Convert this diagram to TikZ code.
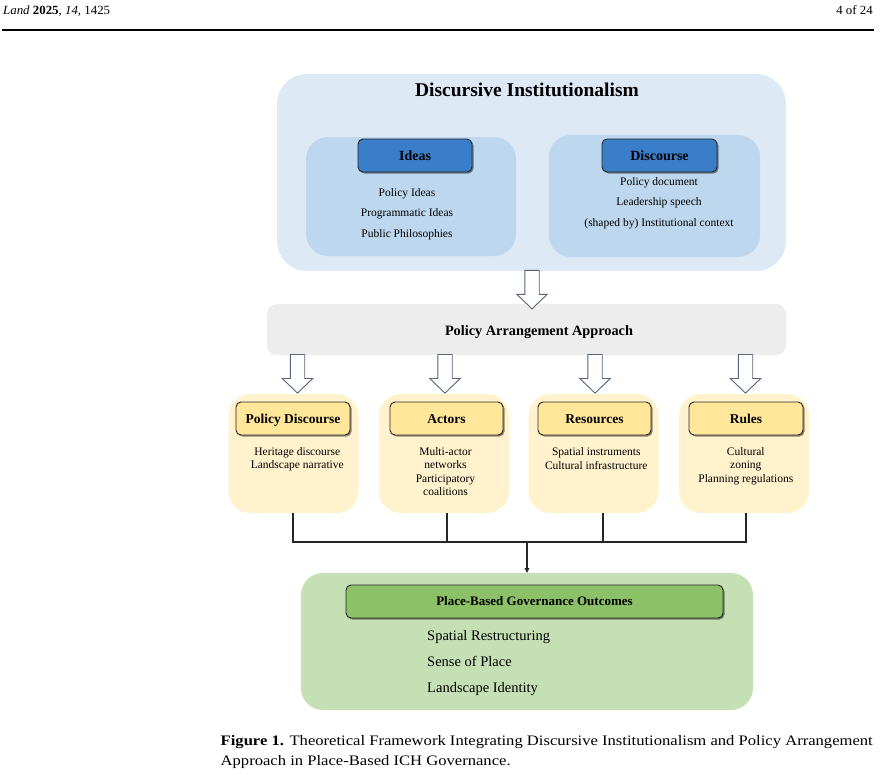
\documentclass[tikz,border=0pt]{standalone}
\usepackage{fontspec}
\setmainfont{Liberation Serif}
\newfontfamily\capfont[FakeStretch=1.145]{Liberation Serif}
\newfontfamily\hdrfont[FakeStretch=1.03]{Liberation Serif}
\usetikzlibrary{shadows,arrows.meta}
\definecolor{diouter}{HTML}{DEE9F6}
\definecolor{diinner}{HTML}{BDD7EE}
\definecolor{bluehead}{HTML}{3A7DC9}
\definecolor{pagray}{HTML}{EDEDED}
\definecolor{ylbox}{HTML}{FFF2CC}
\definecolor{ylhead}{HTML}{FFE699}
\definecolor{grbox}{HTML}{C5E0B4}
\definecolor{grhead}{HTML}{8CC168}
\definecolor{arrstroke}{HTML}{56657A}
\definecolor{linecol}{HTML}{262626}
\newcommand\fs[1]{\fontsize{#1}{#1}\selectfont}
\newcommand\hollowarr[1]{%
  \draw[hollow] ([xshift=-7.2pt]#1) -- ++(0,24) -- ++(-8,0) -- ++(15.2,14.6) -- ++(15.2,-14.6) -- ++(-8,0) -- ++(0,-24) -- cycle;}
\begin{document}
\begin{tikzpicture}[x=1pt,y=-1pt,
  panel/.style={anchor=north west, inner sep=0pt, outer sep=0pt},
  headbox/.style={panel, draw=black!85, line width=0.9pt, rounded corners=5pt,
    drop shadow={shadow xshift=1.5pt, shadow yshift=-1.5pt, opacity=0.45, fill=black}},
  item/.style={anchor=base, inner sep=0pt, font=\fs{11.5}},
  gitem/.style={anchor=base west, inner sep=0pt, font=\fs{14.5}},
  hollow/.style={draw=arrstroke, fill=white, line width=0.9pt, line join=miter},
  conn/.style={draw=linecol, line width=1.1pt}]
\useasboundingbox[fill=white] (0,0) rectangle (892,780);

% page header
\node[anchor=base west, inner sep=0pt, font=\hdrfont\fs{12.5}] (hdrl) at (3,14.5) {\textit{Land} \textbf{2025}, \textit{14}, 1425};
\node[anchor=base east, inner sep=0pt, font=\hdrfont\fs{12.5}] (hdrr) at (873,14.5) {4 of 24};
\coordinate (rulel) at (1.5,30);
\coordinate (ruler) at (874,30);
\draw[line width=1.3pt] (rulel) -- (ruler);

% Discursive Institutionalism
\node[panel, fill=diouter, rounded corners=30pt, minimum width=509, minimum height=197] (di) at (277,74) {};
\node[anchor=base, inner sep=0pt, font=\fs{19.5}\bfseries] (dititle) at (527,96) {Discursive Institutionalism};
\node[panel, fill=diinner, rounded corners=22pt, minimum width=210, minimum height=119] (ideasbox) at (306,137) {};
\node[panel, fill=diinner, rounded corners=22pt, minimum width=211, minimum height=122] (discbox) at (549,135) {};
\node[headbox, fill=bluehead, minimum width=114, minimum height=33, font=\fs{14}\bfseries, text height=9.3pt, text depth=0pt] (ideashead) at (358,139) {Ideas};
\node[headbox, fill=bluehead, minimum width=115, minimum height=33, font=\fs{14}\bfseries, text height=9.3pt, text depth=0pt] (dischead) at (602,139) {Discourse};
\foreach \t [count=\i] in {{Policy Ideas},{Programmatic Ideas},{Public Philosophies}}
  \node[item] (idea-\i) at (407,{196.5+20.3*(\i-1)}) {\t};
\foreach \t [count=\i] in {{Policy document},{Leadership speech},{(shaped by) Institutional context}}
  \node[item] (disc-\i) at (659,{185+20.7*(\i-1)}) {\t};

% Policy Arrangement Approach
\node[panel, fill=pagray, rounded corners=10pt, minimum width=519, minimum height=51] (pa) at (267,304) {};
\node[anchor=base, inner sep=0pt, font=\fs{14.3}\bfseries] (patext) at (539,335) {Policy Arrangement Approach};

\coordinate (a0) at (532,270.3);
\hollowarr{a0}
\coordinate (a1) at (297.5,354.5);
\coordinate (a2) at (445,354.5);
\coordinate (a3) at (595,354.5);
\coordinate (a4) at (745.5,354.5);

% four dimensions
\node[panel, fill=ylbox, rounded corners=22pt, minimum width=130, minimum height=119] (pdbox) at (228.5,394) {};
\node[panel, fill=ylbox, rounded corners=22pt, minimum width=130, minimum height=119] (actbox) at (379,394) {};
\node[panel, fill=ylbox, rounded corners=22pt, minimum width=130, minimum height=119] (resbox) at (528.5,394) {};
\node[panel, fill=ylbox, rounded corners=22pt, minimum width=130, minimum height=119] (rulbox) at (679,394) {};
\hollowarr{a1}
\hollowarr{a2}
\hollowarr{a3}
\hollowarr{a4}
\node[headbox, fill=ylhead, minimum width=114, minimum height=33, font=\fs{13.5}\bfseries, text height=9pt, text depth=0pt] (pdhead) at (236,402) {Policy Discourse};
\node[headbox, fill=ylhead, minimum width=113, minimum height=33, font=\fs{13.5}\bfseries, text height=9pt, text depth=0pt] (acthead) at (390,402) {Actors};
\node[headbox, fill=ylhead, minimum width=113, minimum height=33, font=\fs{13.5}\bfseries, text height=9pt, text depth=0pt] (reshead) at (538,402) {Resources};
\node[headbox, fill=ylhead, minimum width=114, minimum height=33, font=\fs{13.5}\bfseries, text height=9pt, text depth=0pt] (rulhead) at (689,402) {Rules};
\foreach \t [count=\i] in {{Heritage discourse},{Landscape narrative}}
  \node[item] (pd-\i) at (297.3,{455+13.6*(\i-1)}) {\t};
\foreach \t [count=\i] in {{Multi-actor},{networks},{Participatory},{coalitions}}
  \node[item] (act-\i) at (445.5,{455+13.6*(\i-1)}) {\t};
\foreach \t [count=\i] in {{Spatial instruments},{Cultural infrastructure}}
  \node[item] (res-\i) at (596.3,{455.5+13.6*(\i-1)}) {\t};
\foreach \t [count=\i] in {{Cultural},{zoning},{Planning regulations}}
  \node[item] (rul-\i) at (745.8,{455+13.6*(\i-1)}) {\t};

% connectors
\coordinate (j1) at (293,542);
\coordinate (j2) at (447,542);
\coordinate (j3) at (603,542);
\coordinate (j4) at (746,542);
\coordinate (jm) at (527,542);

% outcomes
\node[panel, fill=grbox, rounded corners=22pt, minimum width=452, minimum height=137] (gr) at (301,573) {};
\node[headbox, fill=grhead, minimum width=377, minimum height=33, font=\fs{13}\bfseries, text height=8.6pt, text depth=0pt] (grhead) at (346,585) {Place-Based Governance Outcomes};
\node[gitem] (gr-1) at (427,640) {Spatial Restructuring};
\node[gitem] (gr-2) at (427,666) {Sense of Place};
\node[gitem] (gr-3) at (427,692) {Landscape Identity};

\draw[conn] (pdbox.south -| j1) -- (j1) -- (j4) -- (rulbox.south -| j4);
\draw[conn] (actbox.south -| j2) -- (j2);
\draw[conn] (resbox.south -| j3) -- (j3);
\draw[conn, -{Triangle[length=5pt,width=4.5pt]}] (jm) -- (gr.north -| jm);

% caption
\node[anchor=base west, inner sep=0pt, font=\capfont\fs{14.5}] (cap1) at (220.5,745) {\textbf{Figure 1.} Theoretical Framework Integrating Discursive Institutionalism and Policy Arrangement};
\node[anchor=base west, inner sep=0pt, font=\capfont\fs{14.5}] (cap2) at (220.5,765) {Approach in Place-Based ICH Governance.};
\end{tikzpicture}
\end{document}
